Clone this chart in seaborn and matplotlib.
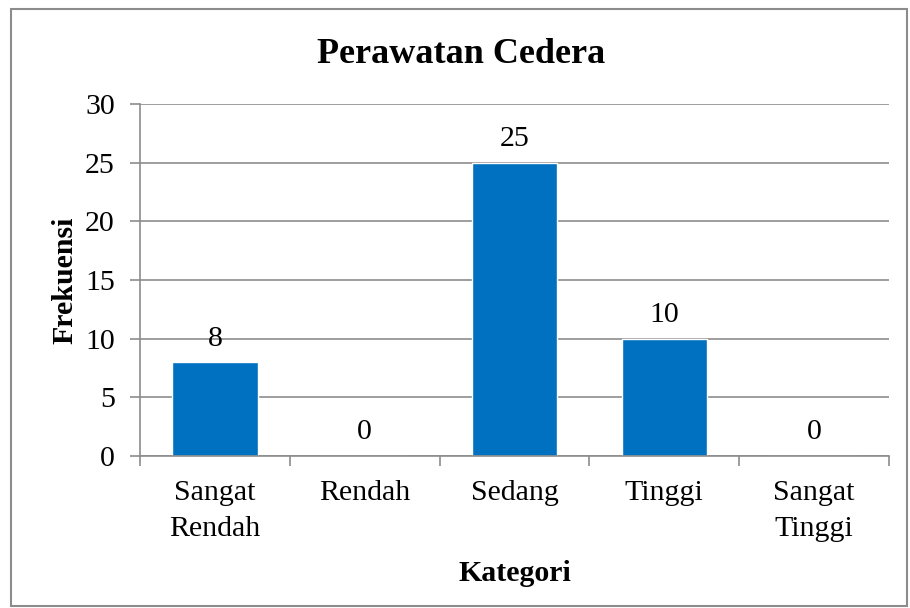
import matplotlib
matplotlib.use("Agg")
import matplotlib.pyplot as plt
import seaborn as sns
import pandas as pd
from matplotlib.patches import Rectangle

categories = ["Sangat\nRendah", "Rendah", "Sedang", "Tinggi", "Sangat\nTinggi"]
frekuensi = [8, 0, 25, 10, 0]
y_ticks = [0, 5, 10, 15, 20, 25, 30]

sns.set_style("white")
plt.rcParams["font.family"] = ["Liberation Serif", "DejaVu Serif"]
plt.rcParams["text.color"] = "black"
plt.rcParams["axes.labelcolor"] = "black"
plt.rcParams["xtick.color"] = "black"
plt.rcParams["ytick.color"] = "black"

df = pd.DataFrame({"Kategori": categories, "Frekuensi": frekuensi})

fig = plt.figure(figsize=(9.1, 6.08), dpi=100)
ax = fig.add_axes([0.1538, 0.25, 0.8231, 0.579])

sns.barplot(data=df, x="Kategori", y="Frekuensi", color="#0070C0",
            saturation=1, width=0.571, ax=ax)

grid_col = "#8c8c8c"
ax.set_ylim(0, 30)
ax.set_xlim(-0.5, len(categories) - 0.5)
ax.set_yticks(y_ticks)
ax.yaxis.grid(True, color=grid_col, linewidth=1.2)
ax.set_axisbelow(True)

for side in ["top", "right"]:
    ax.spines[side].set_visible(False)
for side in ["left", "bottom"]:
    ax.spines[side].set_color(grid_col)
    ax.spines[side].set_linewidth(1.2)

ax.set_xticks([i - 0.5 for i in range(len(categories) + 1)], minor=True)
ax.set_xticks(range(len(categories)))
ax.set_xticklabels(categories, fontsize=21.5, linespacing=1.5)
ax.tick_params(axis="x", which="major", bottom=True, length=0, pad=17)
ax.tick_params(axis="x", which="minor", bottom=True, length=7, width=1.2,
               color=grid_col, direction="out")
ax.tick_params(axis="y", left=True, length=7, width=1.2, color=grid_col,
               labelcolor="black", direction="out", labelsize=21.5, pad=11)

for i, v in enumerate(frekuensi):
    ax.annotate(str(v), (i, v), xytext=(0, 17), textcoords="offset points",
                ha="center", va="center", fontsize=21.5)

ax.set_xlabel("Kategori", fontsize=21.5, fontweight="bold", labelpad=13)
ax.set_ylabel("Frekuensi", fontsize=21.5, fontweight="bold", labelpad=5)
fig.text(0.507, 0.91, "Perawatan Cedera", ha="center", va="center",
         fontsize=26, fontweight="bold")

fig.patches.append(Rectangle((0.012, 0.003), 0.985, 0.982, transform=fig.transFigure,
                             fill=False, edgecolor="#8c8c8c", linewidth=1.5))

fig.savefig("out.png", dpi=100)
